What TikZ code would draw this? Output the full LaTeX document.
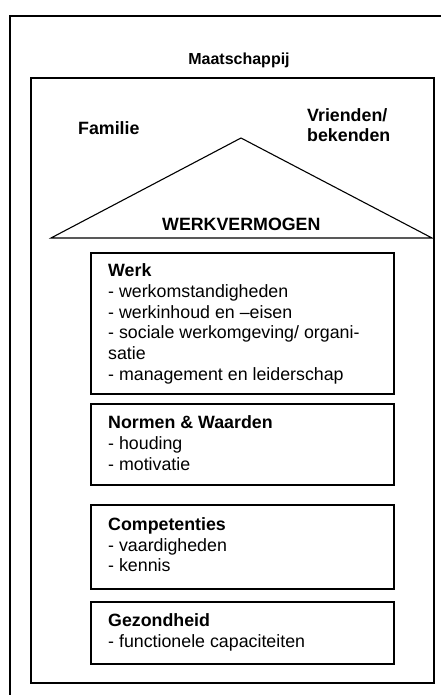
\documentclass[tikz,border=0pt]{standalone}
\usepackage{fontspec}
\setmainfont{Liberation Sans}
\begin{document}
\begin{tikzpicture}[x=1pt,y=-1pt,
  frame/.style={draw=black, line width=1.8pt},
  box/.style={draw=black, line width=1.8pt, rectangle, inner sep=0pt, anchor=north west},
  txt/.style={anchor=base west, inner sep=0pt, font=\fontsize{17.8}{20.5}\selectfont},
  btxt/.style={txt, font=\fontsize{17.8}{20.5}\selectfont\bfseries},
  roof/.style={draw=black, line width=1.1pt, line join=miter}]
\useasboundingbox[fill=white] (0,0) rectangle (441,695);
% outer frame (cropped on right and bottom)
\coordinate (oBL) at (10,696);
\coordinate (oTL) at (10,16);
\coordinate (oTR) at (442,16);
\draw[frame] (oBL) -- (oTL) -- (oTR);
\node[anchor=base, inner sep=0pt, font=\fontsize{16}{19}\selectfont\bfseries] (maat) at (239,65) {Maatschappij};
% inner frame
\node[box, minimum width=403pt, minimum height=605pt] (inner) at (30,77) {};
\node[btxt] (fam) at (78,135) {Familie};
\node[btxt] (vr1) at (307,122) {Vrienden/};
\node[btxt] (vr2) at (307,142) {bekenden};
% roof triangle
\coordinate (apex) at (241,138);
\coordinate (bl) at (51,238);
\coordinate (br) at (432,238);
\draw[roof] (bl) -- (apex) -- (br) -- cycle;
\node[btxt] (wv) at (162,230) {WERKVERMOGEN};
% boxes
\node[box, minimum width=303pt, minimum height=141pt] (werk) at (90,252) {};
\node[box, minimum width=303pt, minimum height=81pt] (norm) at (90,403) {};
\node[box, minimum width=303pt, minimum height=84pt] (comp) at (90,504) {};
\node[box, minimum width=303pt, minimum height=62pt] (gez) at (90,601) {};
% werk text
\node[btxt] (w1) at (108,276) {Werk};
\node[txt] (w2) at (108,297) {- werkomstandigheden};
\node[txt] (w3) at (108,318) {- werkinhoud en –eisen};
\node[txt] (w4) at (108,338) {- sociale werkomgeving/ organi-};
\node[txt] (w5) at (108,359) {satie};
\node[txt] (w6) at (108,380) {- management en leiderschap};
% normen text
\node[btxt] (n1) at (108,428) {Normen \& Waarden};
\node[txt] (n2) at (108,449) {- houding};
\node[txt] (n3) at (108,470) {- motivatie};
% competenties text
\node[btxt] (c1) at (108,530) {Competenties};
\node[txt] (c2) at (108,551) {- vaardigheden};
\node[txt] (c3) at (108,571) {- kennis};
% gezondheid text
\node[btxt] (g1) at (108,626) {Gezondheid};
\node[txt] (g2) at (108,647) {- functionele capaciteiten};
\end{tikzpicture}
\end{document}
